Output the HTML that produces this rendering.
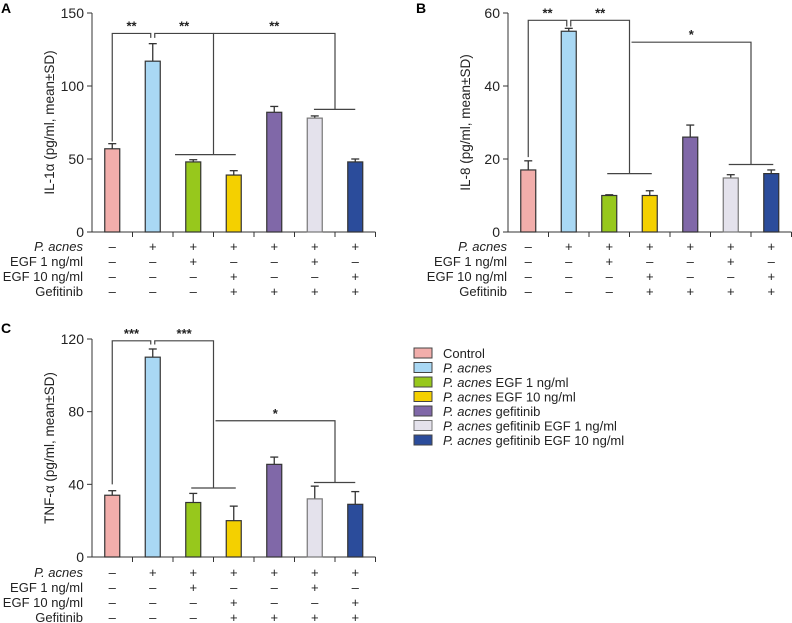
<!DOCTYPE html>
<html><head><meta charset="utf-8"><style>
body{margin:0;background:#fff;}
svg{display:block;font-family:"Liberation Sans",Arial,sans-serif;}
</style></head><body>
<svg id="fig" width="792" height="623" viewBox="0 0 792 623"></svg>
<script>
const categories = ["Control","P. acnes","P. acnes EGF 1 ng/ml","P. acnes EGF 10 ng/ml","P. acnes gefitinib","P. acnes gefitinib EGF 1 ng/ml","P. acnes gefitinib EGF 10 ng/ml"];
const colors = ["#f2aeab","#a9d8f4","#97c81c","#f4d000","#8068a8","#e4e2ec","#2b4c9b"];
const il1aValues = [57,117,48,39,82,78,48];
const il1aErrors = [3.5,12,1.5,3,4,1.5,2];
const il8Values = [17,55,10,10,26,14.8,16];
const il8Errors = [2.5,0.8,0.2,1.3,3.3,0.9,1];
const tnfValues = [34,110,30,20,51,32,29];
const tnfErrors = [2.5,4.5,5,8,4,7,7];
const il1aTicks = [0,50,100,150];
const il8Ticks = [0,20,40,60];
const tnfTicks = [0,40,80,120];
const rowLabels = ["P. acnes","EGF 1 ng/ml","EGF 10 ng/ml","Gefitinib"];
const rowSigns = [
 ["–","+","+","+","+","+","+"],
 ["–","–","+","–","–","+","–"],
 ["–","–","–","+","–","–","+"],
 ["–","–","–","+","+","+","+"]];
// brackets: [leftIdx, leftDropValue, rightIdx, rightDropValue, topValue, stars, spanLo, spanHi]
const il1aBrackets = [[0,62,1,133,136,"**"],[1,133,2.5,53,136,"**",1.55,3.05],[2.5,136,5.5,84,136,"**",4.98,6.0]];
const il8Brackets = [[0,20.5,1,56.3,58,"**"],[1,56.3,2.5,16,58,"**",1.95,3.05],[2.55,52,5.5,18.5,52,"*",4.95,6.05]];
const tnfBrackets = [[0,40,1,117,119,"***"],[1,117,2.5,38,119,"***",1.95,3.05],[2.55,75,5.5,41,75,"*",4.98,6.0]];

const NS="http://www.w3.org/2000/svg";
const svg=document.getElementById('fig');
function mk(tag,attrs,parent,text){const e=document.createElementNS(NS,tag);for(const k in attrs)e.setAttribute(k,attrs[k]);if(text!==undefined)e.textContent=text;(parent||svg).appendChild(e);return e;}

function panel(cfg){
 const g=mk('g',{});
 
 
 const cw=40.5;
 const xC=i=>cfg.ox+(i+0.5)*cw;
 const yS=v=>cfg.y0-(v/cfg.max)*(cfg.y0-cfg.yt);
 const lt=mk('text',{x:cfg.lx,y:cfg.ly,'font-size':14,'font-weight':'bold'},g,cfg.letter);
 
 
 const ya=mk('line',{x1:cfg.ox,y1:cfg.yt,x2:cfg.ox,y2:cfg.y0,stroke:'#333','stroke-width':1},g);
 
 
 cfg.ticks.forEach(t=>{
  mk('line',{x1:cfg.ox-5,y1:yS(t),x2:cfg.ox,y2:yS(t),stroke:'#333'},g);
  const tl=mk('text',{x:cfg.ox-8,y:yS(t)+5,'font-size':14,'text-anchor':'end',fill:'#222'},g,String(t));
  
  
 });
 const yc=(cfg.yt+cfg.y0)/2;
 const yt=mk('text',{x:cfg.ox-38,y:yc,'font-size':13.5,'text-anchor':'middle',transform:`rotate(-90 ${cfg.ox-38} ${yc})`,fill:'#222'},g,cfg.title);
 
 
 const xa=mk('line',{x1:cfg.ox,y1:cfg.y0,x2:cfg.ox+7*cw,y2:cfg.y0,stroke:'#333'},g);
 
 
 for(let i=1;i<=7;i++)mk('line',{x1:cfg.ox+i*cw,y1:cfg.y0,x2:cfg.ox+i*cw,y2:cfg.y0+5,stroke:'#333'},g);
 cfg.values.forEach((v,i)=>{
  const x=xC(i),bw=15,top=yS(v),et=yS(v+cfg.errors[i]);
  mk('line',{x1:x,y1:top,x2:x,y2:et,stroke:'#333','stroke-width':1.3},g);
  mk('line',{x1:x-4,y1:et,x2:x+4,y2:et,stroke:'#333','stroke-width':1.3},g);
  const r=mk('rect',{x:x-bw/2,y:top,width:bw,height:cfg.y0-top,fill:colors[i],stroke:i===5?'#777':'#333','stroke-width':1.2},g);
  
  
 });
 cfg.brackets.forEach(b=>{
  const [li,lv,ri,rv,tv,st,s0,s1]=b;
  const xl=xC(li)+(li===1?2:0), xr=xC(ri)-(ri===1?2:0);
  mk('polyline',{points:`${xl},${yS(lv)} ${xl},${yS(tv)} ${xr},${yS(tv)} ${xr},${yS(rv)}`,fill:'none',stroke:'#444','stroke-width':1.2},g);
  if(s0!==undefined)mk('line',{x1:xC(s0),y1:yS(rv),x2:xC(s1),y2:yS(rv),stroke:'#444','stroke-width':1.2},g);
  const s=mk('text',{x:(xl+xr)/2,y:yS(tv)-3,'font-size':13,'font-weight':'bold','text-anchor':'middle',fill:'#222'},g,st);
  
  
 });
 rowLabels.forEach((lab,r)=>{
  const y=cfg.rowY+r*15;
  const t=mk('text',{x:cfg.labelRight,y:y+4,'font-size':13,'text-anchor':'end',fill:'#222','font-style':r===0?'italic':'normal'},g,lab);
  
  
  rowSigns[r].forEach((s,i)=>{mk('text',{x:xC(i),y:y+4,'font-size':13,'text-anchor':'middle',fill:'#222'},g,s);});
 });
}
panel({name:'panel-a-il1a',letter:'A',lx:1,ly:13,ox:92,y0:232,yt:13,max:150,ticks:il1aTicks,values:il1aValues,errors:il1aErrors,brackets:il1aBrackets,title:'IL-1α (pg/ml, mean±SD)',rowY:247,labelRight:83});
panel({name:'panel-b-il8',letter:'B',lx:416,ly:13,ox:508,y0:232,yt:13,max:60,ticks:il8Ticks,values:il8Values,errors:il8Errors,brackets:il8Brackets,title:'IL-8 (pg/ml, mean±SD)',rowY:247,labelRight:507});
panel({name:'panel-c-tnf',letter:'C',lx:1,ly:333,ox:92,y0:557,yt:339,max:120,ticks:tnfTicks,values:tnfValues,errors:tnfErrors,brackets:tnfBrackets,title:'TNF-α (pg/ml, mean±SD)',rowY:573,labelRight:83});

const lg=mk('g',{});


categories.forEach((c,i)=>{
 const y=353+i*14.5;
 const e=mk('g',{},lg);
 
 
 mk('rect',{x:414,y:y-5,width:18,height:10,fill:colors[i],stroke:i===5?'#777':'#444'},e);
 const t=mk('text',{x:443,y:y+5,'font-size':13,fill:'#222'},e);
 if(c.startsWith('P. acnes')){
  mk('tspan',{'font-style':'italic'},t,'P. acnes');
  mk('tspan',{},t,c.slice(8));
 } else t.textContent=c;
});
</script>
</body></html>
